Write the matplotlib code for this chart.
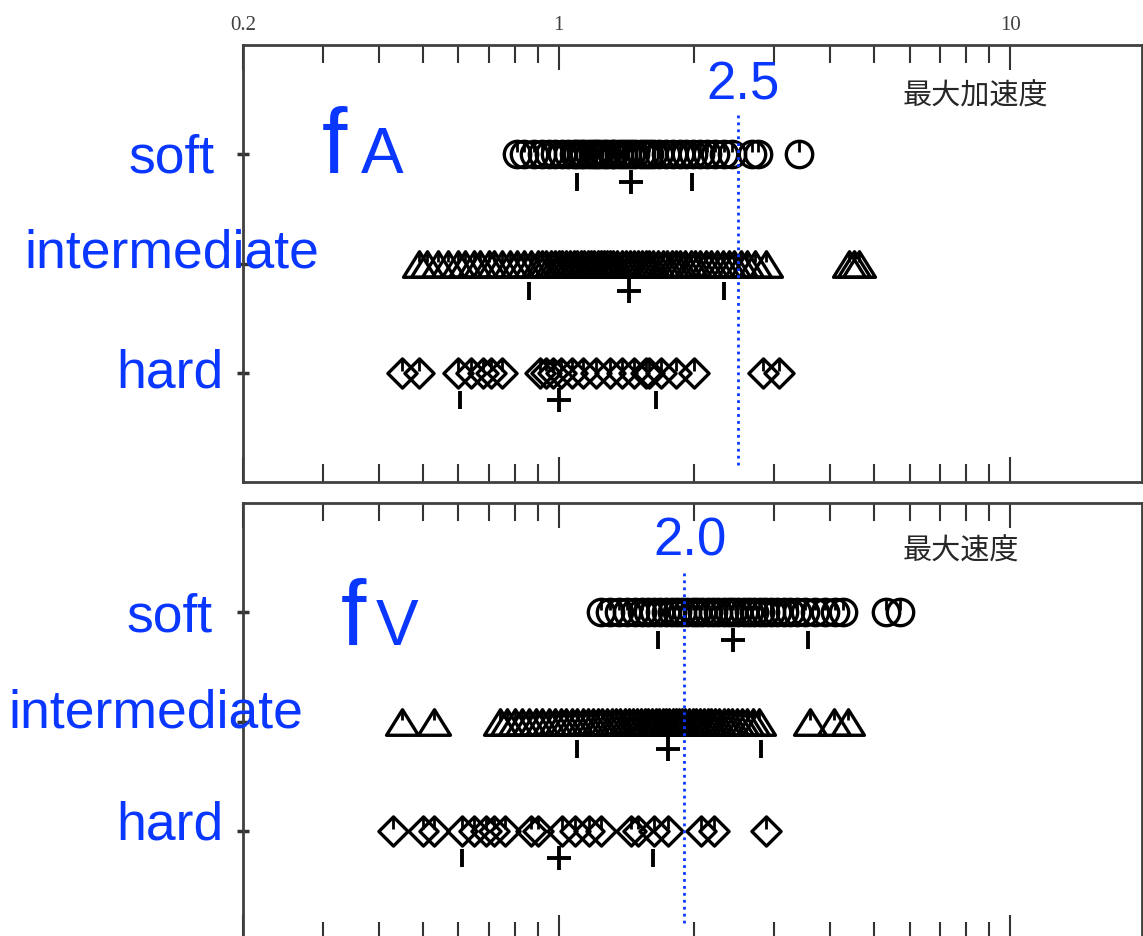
import numpy as np
import matplotlib.pyplot as plt
from matplotlib.path import Path
from matplotlib.ticker import FixedLocator, FixedFormatter, LogLocator, NullFormatter

W, H = 1143, 936
BLUE = '#0a37ff'

# rows: soft, intermediate, hard (top to bottom)
row_names = ['soft', 'intermediate', 'hard']
rows = [3, 2, 1]

# --- upper panel: peak acceleration ratio (最大加速度) ---
soft_acc = [0.81, 0.84, 0.88, 0.92, 0.95, 0.98, 1.02, 1.05, 1.08, 1.10, 1.12,
            1.14, 1.17, 1.19, 1.21, 1.23, 1.26, 1.28, 1.31, 1.33, 1.36, 1.39,
            1.42, 1.45, 1.48, 1.52, 1.55, 1.59, 1.62, 1.67, 1.73, 1.79, 1.86,
            1.92, 1.99, 2.06, 2.13, 2.22, 2.32, 2.42, 2.68, 2.76, 3.40]
inter_acc = [0.49, 0.51, 0.54, 0.57, 0.60, 0.62, 0.65, 0.67, 0.70, 0.72, 0.75,
             0.78, 0.81, 0.84, 0.87, 0.90, 0.92, 0.94, 0.96, 0.98, 1.00, 1.02,
             1.04, 1.06, 1.08, 1.10, 1.12, 1.14, 1.16, 1.18, 1.20, 1.22, 1.24,
             1.26, 1.28, 1.30, 1.32, 1.35, 1.38, 1.41, 1.44, 1.47, 1.50, 1.53,
             1.56, 1.59, 1.62, 1.66, 1.70, 1.74, 1.78, 1.82, 1.86, 1.91, 1.96,
             2.01, 2.06, 2.12, 2.18, 2.24, 2.31, 2.38, 2.45, 2.53, 2.62, 2.72,
             2.88, 4.40, 4.52, 4.62]
hard_acc = [0.45, 0.49, 0.60, 0.64, 0.68, 0.71, 0.75, 0.91, 0.94, 0.97, 1.01,
            1.07, 1.13, 1.21, 1.30, 1.38, 1.47, 1.56, 1.59, 1.69, 1.82, 2.00,
            2.84, 3.07]
# (mean, mean - sd, mean + sd) for each row
acc_stats = [(1.45, 1.10, 1.97), (1.43, 0.86, 2.32), (1.00, 0.605, 1.645)]
acc_line = 2.5

# --- lower panel: peak velocity ratio (最大速度) ---
soft_vel = [1.24, 1.30, 1.36, 1.42, 1.48, 1.53, 1.58, 1.63, 1.68, 1.73, 1.78,
            1.83, 1.88, 1.93, 1.98, 2.03, 2.08, 2.14, 2.20, 2.26, 2.32, 2.38,
            2.44, 2.50, 2.57, 2.64, 2.71, 2.79, 2.87, 2.96, 3.05, 3.15, 3.26,
            3.38, 3.52, 3.70, 3.90, 4.10, 4.26, 5.30, 5.70]
inter_vel = [0.45, 0.53, 0.74, 0.77, 0.80, 0.83, 0.86, 0.89, 0.92, 0.95, 0.98,
             1.01, 1.04, 1.07, 1.10, 1.13, 1.16, 1.19, 1.22, 1.25, 1.28, 1.31,
             1.34, 1.37, 1.40, 1.43, 1.46, 1.49, 1.52, 1.55, 1.58, 1.61, 1.64,
             1.67, 1.70, 1.73, 1.76, 1.79, 1.82, 1.85, 1.88, 1.91, 1.94, 1.98,
             2.02, 2.06, 2.10, 2.14, 2.18, 2.22, 2.27, 2.32, 2.37, 2.42, 2.48,
             2.55, 2.62, 2.70, 2.78, 3.60, 4.08, 4.38]
hard_vel = [0.43, 0.50, 0.53, 0.61, 0.65, 0.69, 0.72, 0.76, 0.87, 0.90, 1.02,
            1.09, 1.17, 1.24, 1.45, 1.50, 1.63, 1.75, 2.07, 2.21, 2.88]
vel_stats = [(2.43, 1.66, 3.56), (1.75, 1.10, 2.81), (1.00, 0.61, 1.62)]
vel_line = 1.9

tick_vals = [0.2, 1, 10]
tick_labels = ['0.2', '1', '10']

# marker shapes
tri = Path([(-1, -0.8), (1, -0.8), (0, 0.8), (-1, -0.8)], closed=True)
dia = Path([(0, 1), (1, 0), (0, -1), (-1, 0), (0, 1)], closed=True)
pin = Path([(0, 1), (0, 0.15)], [Path.MOVETO, Path.LINETO])
# (marker, size, pin size)
shapes = [('o', 19, 19), (tri, 23, 18.4), (dia, 21, 21)]


def px(x, y):
    return x / W, 1 - y / H


def setup_axis(ax, labels_on_top):
    ax.set_xscale('log')
    ax.set_xlim(0.2, 19.6)
    ax.set_ylim(0, 4)
    ax.xaxis.set_major_locator(FixedLocator(tick_vals))
    ax.xaxis.set_major_formatter(FixedFormatter(tick_labels))
    ax.xaxis.set_minor_locator(LogLocator(subs=np.arange(2, 10)))
    ax.xaxis.set_minor_formatter(NullFormatter())
    ax.tick_params(axis='x', which='both', direction='in', top=True,
                   bottom=True, labelbottom=False, labeltop=labels_on_top,
                   width=1.5, color='0.2')
    ax.tick_params(axis='x', which='major', length=18, pad=7,
                   labelsize=15, labelcolor='0.25')
    ax.tick_params(axis='x', which='minor', length=13)
    for lab in ax.get_xticklabels():
        lab.set_family('Liberation Serif')
    ax.set_yticks(rows)
    ax.tick_params(axis='y', direction='inout', length=8, width=2.5,
                   labelleft=False, color='0.2')
    for s in ax.spines.values():
        s.set_linewidth(2)
        s.set_color('0.25')


def plot_panel(ax, groups, stats, vline):
    for y, vals, (mk, ms, pms), st in zip(rows, groups, shapes, stats):
        ax.plot(vals, [y] * len(vals), ls='none', marker=mk, ms=ms,
                mfc='none', mec='k', mew=2.4)
        ax.plot(vals, [y] * len(vals), ls='none', marker=pin, ms=pms,
                mfc='none', mec='k', mew=2.0)
        ax.plot([st[1], st[2]], [y - 0.25] * 2, ls='none', marker='|',
                ms=13, mew=2.8, color='k')
        ax.plot([st[0]], [y - 0.25], ls='none', marker='+', ms=17, mew=2.8,
                color='k')
    ax.vlines(vline, 0.16, 3.4, colors=BLUE, lw=2, linestyles=(0, (1, 1.5)))


fig = plt.figure(figsize=(W / 100, H / 100), dpi=100)
ax1 = fig.add_axes([243 / W, 1 - 482 / H, (1142 - 243) / W, 437 / H])
ax2 = fig.add_axes([243 / W, 1 - 940 / H, (1142 - 243) / W, 437 / H])
setup_axis(ax1, True)
setup_axis(ax2, False)
plot_panel(ax1, [soft_acc, inter_acc, hard_acc], acc_stats, acc_line)
plot_panel(ax2, [soft_vel, inter_vel, hard_vel], vel_stats, vel_line)

# panel titles
cjk = ['Noto Sans CJK JP', 'DejaVu Sans']
fig.text(*px(903, 97), '最大加速度', family=cjk, fontsize=21, color='0.15',
         va='center')
fig.text(*px(903, 552), '最大速度', family=cjk, fontsize=21, color='0.15',
         va='center')

# blue annotations
lab_font = dict(family='Liberation Sans', color=BLUE)
for name, (x, y) in zip(row_names, [(172, 158), (172, 254), (170, 373)]):
    fig.text(*px(x, y), name, fontsize=38.5, ha='center', va='center', **lab_font)
for name, (x, y) in zip(row_names, [(170, 618), (156, 714), (170, 826)]):
    fig.text(*px(x, y), name, fontsize=38.5, ha='center', va='center', **lab_font)

fig.text(*px(322, 173), 'f', fontsize=66, va='baseline', **lab_font)
fig.text(*px(361, 173), 'A', fontsize=46, va='baseline', **lab_font)
fig.text(*px(341, 645), 'f', fontsize=66, va='baseline', **lab_font)
fig.text(*px(376, 645), 'V', fontsize=46, va='baseline', **lab_font)

fig.text(*px(743, 100), '%.1f' % acc_line, fontsize=38, ha='center',
         va='baseline', **lab_font)
fig.text(*px(690, 555), '2.0', fontsize=38, ha='center', va='baseline',
         **lab_font)

fig.savefig('out.png', dpi=100)
